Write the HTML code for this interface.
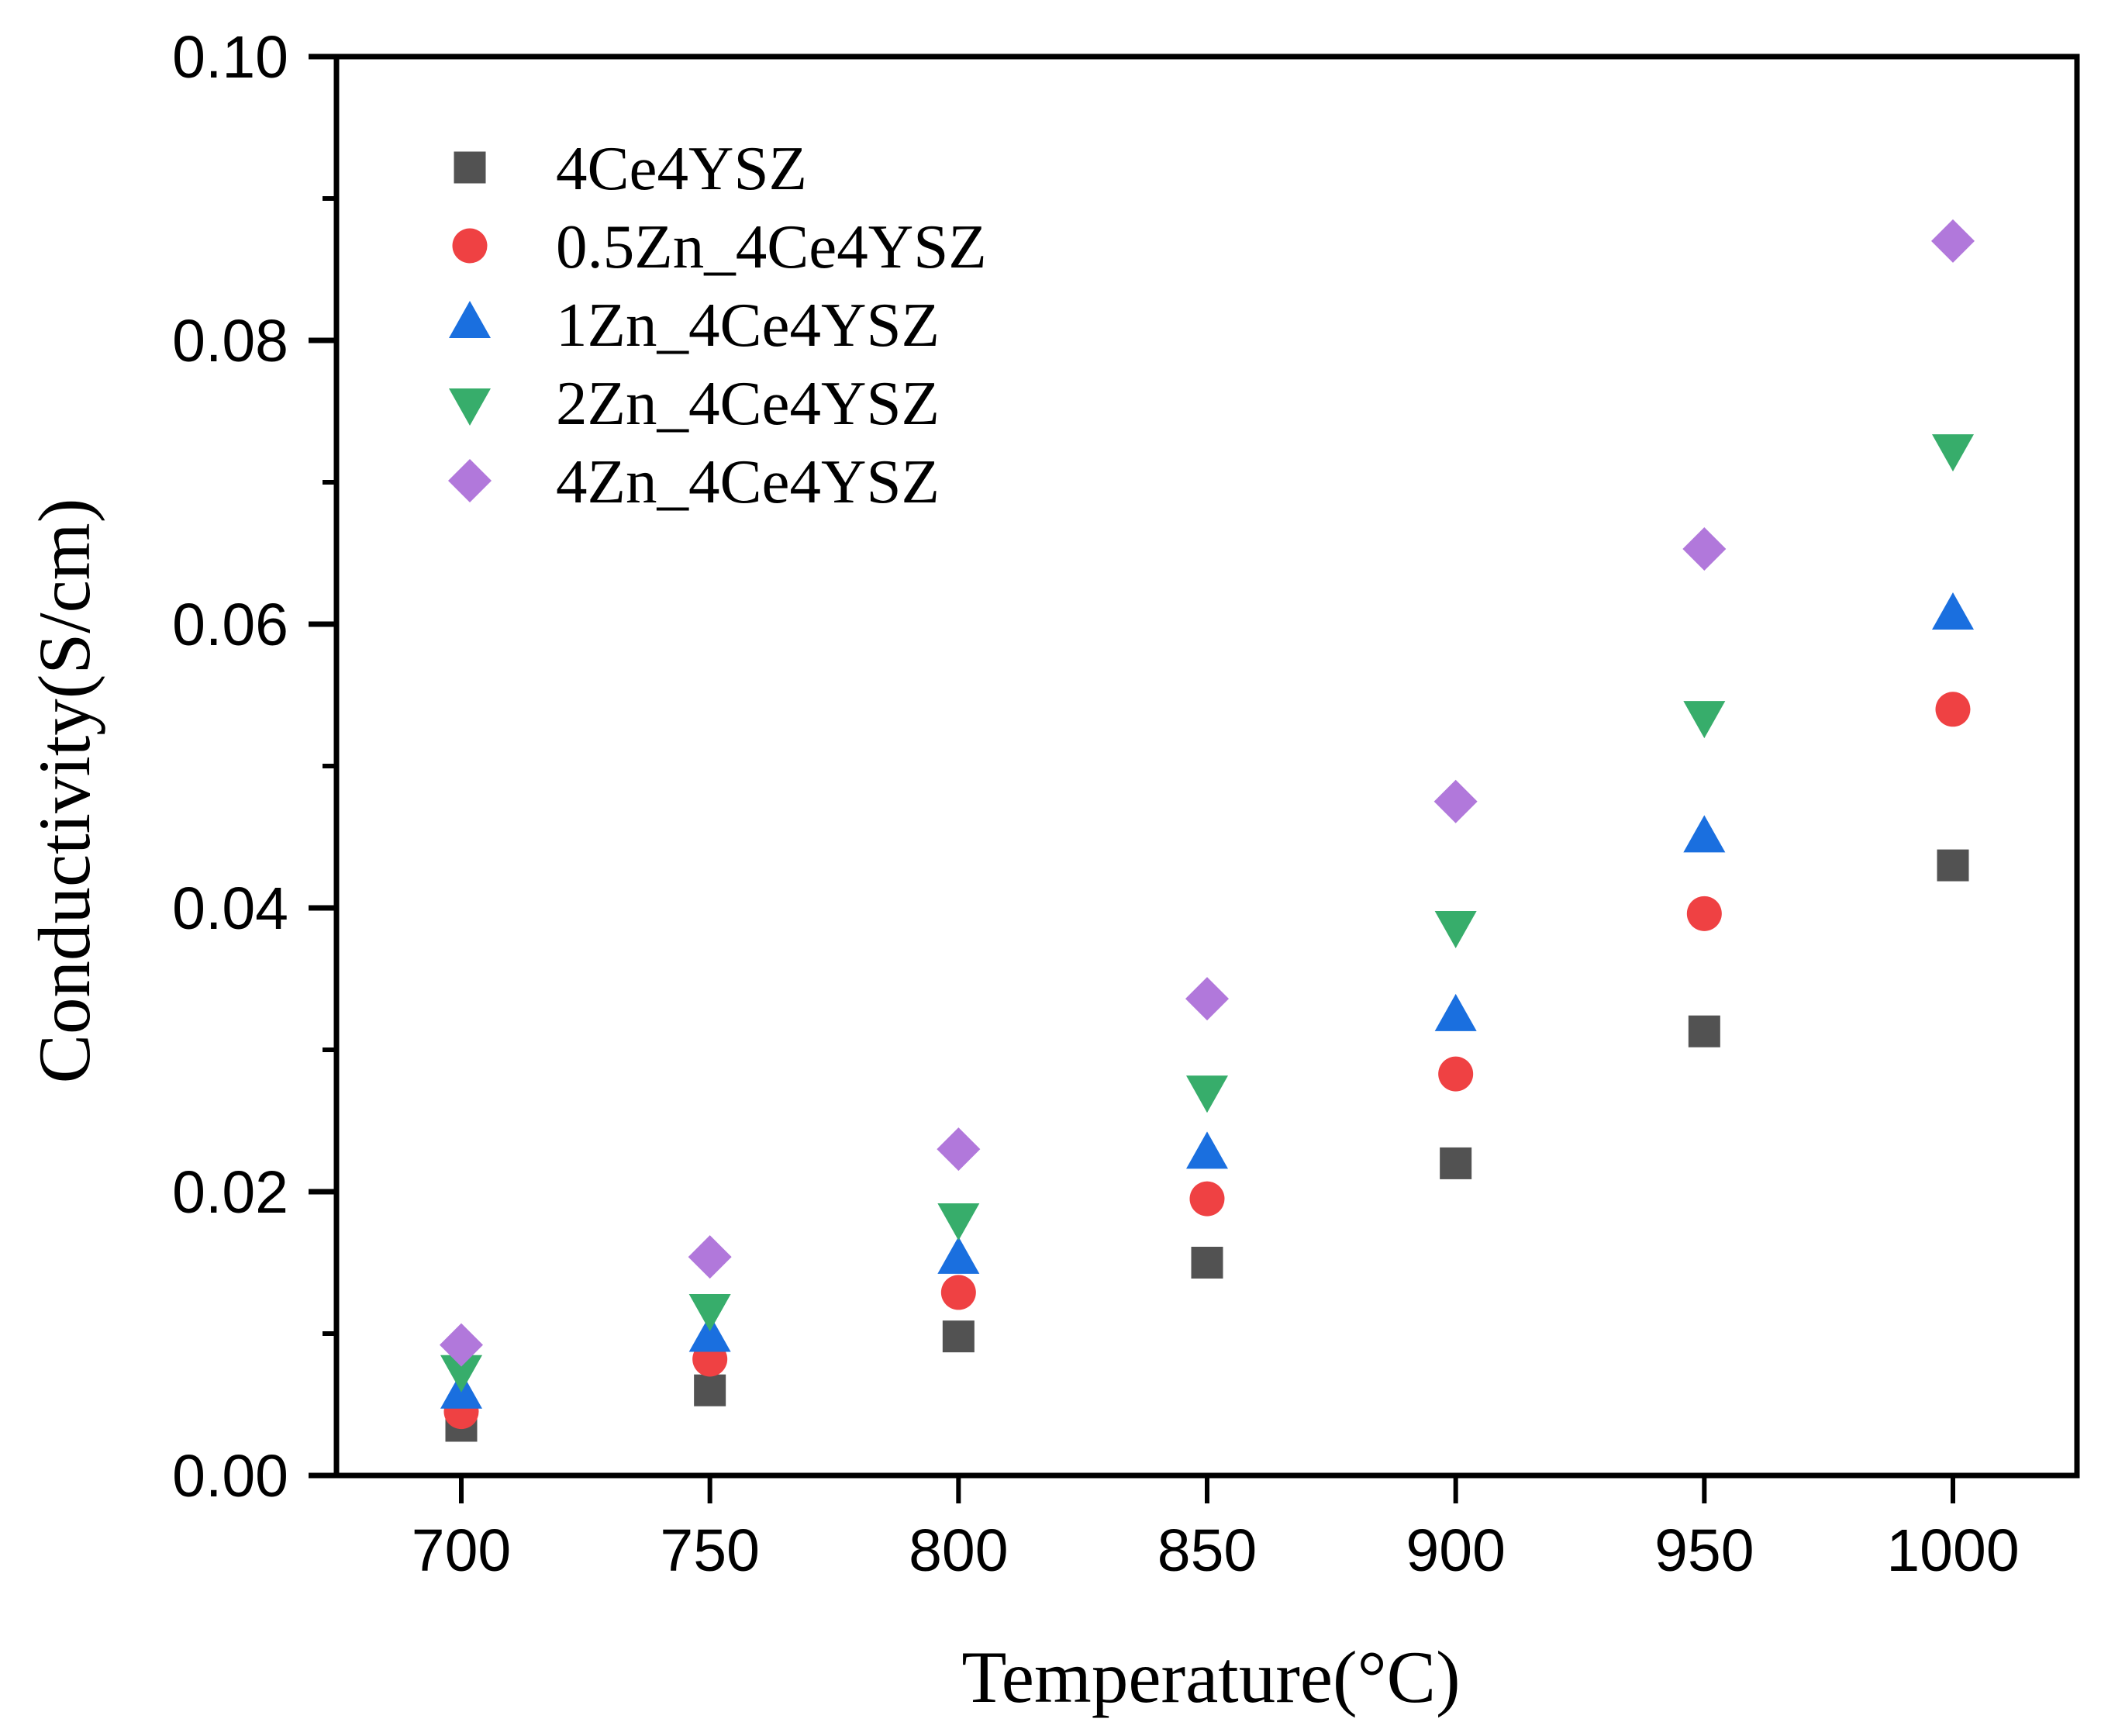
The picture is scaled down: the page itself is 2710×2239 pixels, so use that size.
<!DOCTYPE html>
<html><head><meta charset="utf-8"><style>
html,body{margin:0;padding:0;background:#fff}
svg{display:block}
.tk{font-family:"Liberation Sans",sans-serif;font-size:77px;fill:#000}
.sf{font-family:"Liberation Serif",serif;font-size:81px;fill:#000}
.tt{font-family:"Liberation Serif",serif;font-size:95px;fill:#000}
</style></head><body>
<svg id="chart" width="2710" height="2239" viewBox="0 0 2710 2239" xmlns="http://www.w3.org/2000/svg">
<g id="axes"></g><g id="marks"></g><g id="legend"></g>
<text class="tt" x="1562" y="2195" text-anchor="middle">Temperature(°C)</text>
<text class="tt" transform="translate(115,1020) rotate(-90)" text-anchor="middle">Conductivity(S/cm)</text>
</svg>
<script>
const temps = [700, 750, 800, 850, 900, 950, 1000];
const s4Ce4YSZ = [0.0035, 0.0060, 0.0098, 0.0150, 0.0220, 0.0313, 0.0430];
const s05Zn = [0.0045, 0.0082, 0.0129, 0.0195, 0.0283, 0.0396, 0.0540];
const s1Zn = [0.0057, 0.0097, 0.0152, 0.0226, 0.0323, 0.0449, 0.0606];
const s2Zn = [0.0075, 0.0118, 0.0182, 0.0272, 0.0388, 0.0536, 0.0724];
const s4Zn = [0.0092, 0.0154, 0.0230, 0.0336, 0.0475, 0.0653, 0.0870];
const seriesNames = ["4Ce4YSZ", "0.5Zn_4Ce4YSZ", "1Zn_4Ce4YSZ", "2Zn_4Ce4YSZ", "4Zn_4Ce4YSZ"];
const yTicks = ["0.00", "0.02", "0.04", "0.06", "0.08", "0.10"];
const xTickLabels = ["700", "750", "800", "850", "900", "950", "1000"];

const NS = "http://www.w3.org/2000/svg";
const L = 434, R = 2679, T = 73, B = 1903;
const xs = t => 595 + (t - 700) * (2519 - 595) / 300;
const ys = v => B - v * (B - T) / 0.1;
function mk(tag, attrs, parent) {
  const e = document.createElementNS(NS, tag);
  for (const k in attrs) e.setAttribute(k, attrs[k]);
  parent.appendChild(e);
  return e;
}
const axes = document.getElementById("axes");
const frame = mk("rect", {x: L, y: T, width: R - L, height: B - T, fill: "none", stroke: "#000", "stroke-width": 7}, axes);


yTicks.forEach(lab => {
  const y = ys(parseFloat(lab));
  const t = mk("line", {x1: L - 36, x2: L, y1: y, y2: y, stroke: "#000", "stroke-width": 7}, axes);
  
  
  const tx = mk("text", {x: 372, y: y + 27, "text-anchor": "end", class: "tk"}, axes);
  tx.textContent = lab;
  
  
});
for (let i = 0; i < 5; i++) {
  const y = ys(0.01 + i * 0.02);
  const t = mk("line", {x1: L - 18, x2: L, y1: y, y2: y, stroke: "#000", "stroke-width": 6}, axes);
  
  
}
xTickLabels.forEach(lab => {
  const x = xs(parseFloat(lab));
  const t = mk("line", {x1: x, x2: x, y1: B, y2: B + 36, stroke: "#000", "stroke-width": 6}, axes);
  
  
  const tx = mk("text", {x: x, y: 2026, "text-anchor": "middle", class: "tk"}, axes);
  tx.textContent = lab;
  
  
});
const colors = ["#525252", "#ef4143", "#1a6fdf", "#37ad6b", "#b178db"];
const shapes = ["square", "circle", "up", "down", "diamond"];
function marker(shape, cx, cy, color, parent) {
  if (shape === "square") return mk("rect", {x: cx - 20.5, y: cy - 20.5, width: 41, height: 41, fill: color}, parent);
  if (shape === "circle") return mk("circle", {cx: cx, cy: cy, r: 22.5, fill: color}, parent);
  if (shape === "up") return mk("polygon", {points: `${cx},${cy - 30} ${cx + 27},${cy + 18} ${cx - 27},${cy + 18}`, fill: color}, parent);
  if (shape === "down") return mk("polygon", {points: `${cx},${cy + 30} ${cx + 27},${cy - 18} ${cx - 27},${cy - 18}`, fill: color}, parent);
  return mk("polygon", {points: `${cx},${cy - 28} ${cx + 28},${cy} ${cx},${cy + 28} ${cx - 28},${cy}`, fill: color}, parent);
}
const allSeries = [s4Ce4YSZ, s05Zn, s1Zn, s2Zn, s4Zn];
const marks = document.getElementById("marks");
allSeries.forEach((ser, si) => {
  const g = mk("g", {}, marks);
  
  
  ser.forEach((v, i) => {
    const m = marker(shapes[si], xs(temps[i]), ys(v), colors[si], g);
    
    
  });
});
const legend = document.getElementById("legend");


seriesNames.forEach((n, i) => {
  const y = 216 + i * 101;
  const g = mk("g", {}, legend);
  
  
  marker(shapes[i], 606, y, colors[i], g);
  const t = mk("text", {x: 717, y: y + 28, class: "sf"}, g);
  t.textContent = n;
});
</script>
</body></html>
